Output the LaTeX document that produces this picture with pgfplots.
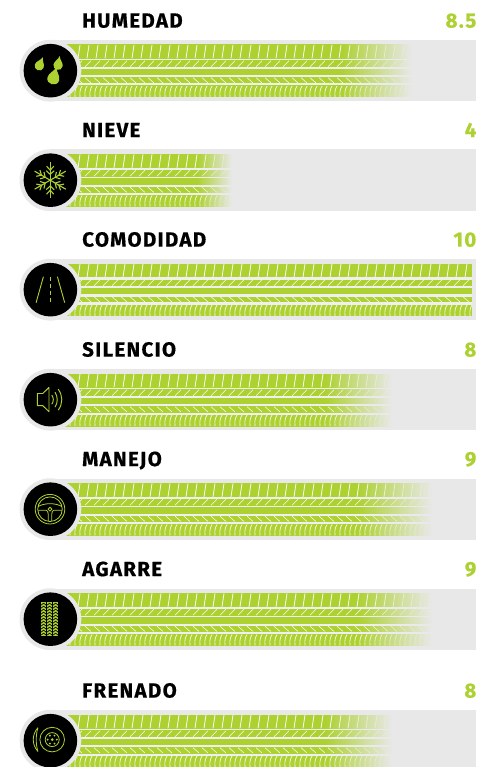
\documentclass[border=0pt]{standalone}
\usepackage{pgfplots}
\pgfplotsset{compat=1.18}
\usepackage{fontspec}
\setmainfont{Fira Sans}
\newfontfamily\lab[LetterSpace=6.5,BoldFeatures={FakeBold=0.6}]{Fira Sans}
\definecolor{lime}{HTML}{ADD131}
\definecolor{trk}{HTML}{E8E8E8}
\definecolor{gapc}{HTML}{EFEFEF}
\pgfdeclarehorizontalshading{ribfade}{100bp}{color(0bp)=(lime); color(65bp)=(lime); color(75bp)=(trk); color(100bp)=(trk)}
\pgfdeclarehorizontalshading{gapfade}{100bp}{color(0bp)=(gapc); color(65bp)=(gapc); color(75bp)=(trk); color(100bp)=(trk)}
\tikzset{ribA/.style={shading=ribfade,shading angle=0},gapA/.style={shading=gapfade,shading angle=0},
         ribB/.style={fill=lime},gapB/.style={fill=gapc}}
% #1 track top (px), #2 rib top offset, #3 rib bottom offset, #4 value, #5 style
\newcommand\rib[5]{%
  \pgfmathsetmacro\ya{#1+#2}\pgfmathsetmacro\yb{#1+#3}%
  \addplot[draw=none,#5,forget plot] coordinates {(-0.35,\ya)(#4,\ya)(#4,\yb)(-0.35,\yb)} --cycle;
}
% #1 top, #2 value, #3 style suffix
\newcommand\bars[3]{%
  \pgfmathsetmacro\ya{#1}\pgfmathsetmacro\yb{#1+61.4}%
  \addplot[draw=none,fill=trk,forget plot] coordinates {(-0.55,\ya)(10.1,\ya)(10.1,\yb)(-0.55,\yb)} --cycle;
  \rib{#1}{18.3}{20.7}{#2}{gap#3}
  \rib{#1}{26.7}{29.3}{#2}{gap#3}
  \rib{#1}{34.7}{37.7}{#2}{gap#3}
  \rib{#1}{43}{46}{#2}{gap#3}
  \rib{#1}{5}{18.3}{#2}{rib#3}
  \rib{#1}{20.7}{26.7}{#2}{rib#3}
  \rib{#1}{29.3}{34.7}{#2}{rib#3}
  \rib{#1}{37.7}{43}{#2}{rib#3}
  \rib{#1}{46}{57}{#2}{rib#3}
}
% white tread grooves, in pixel coordinates: #1 top, #2 value, #3 fade start value
\newcommand\tread[3]{%
  \begin{scope}
  \pgfmathsetmacro\xe{72+40*#2}\pgfmathsetmacro\xf{72+40*#3}
  \clip (58,#1) rectangle (\xe,#1+61.4);
  \foreach \x in {78,87,...,480}{
    \pgfmathsetmacro\op{\x<\xf?0.95:max(0.1,0.95-0.85*(\x-\xf)/(\xe-\xf))}
    \draw[white,opacity=\op,line width=.8pt] (\x,#1+18.3) .. controls (\x+.4,#1+12) .. (\x+2,#1+5);
    \draw[white,opacity=\op,line width=.55pt] (\x-2,#1+26.7) -- (\x+4,#1+20.7);
    \draw[white,opacity=\op,line width=.55pt] (\x-2,#1+37.7) -- (\x+4,#1+43);
  }
  \foreach \x in {70,75,...,480}{
    \pgfmathsetmacro\op{\x<\xf?0.95:max(0.1,0.95-0.85*(\x-\xf)/(\xe-\xf))}
    \draw[white,opacity=\op,line width=.65pt] (\x,#1+57) .. controls (\x-.6,#1+51) and (\x+.6,#1+48) .. (\x+2.2,#1+46);
  }
  \end{scope}
}
\newcommand\txt[3]{%
  \node[anchor=base west,inner sep=0,font=\lab\fontsize{20.5}{20.5}\selectfont\bfseries,text=black] at (82,#1-12.4) {#2};
  \node[anchor=base east,inner sep=0,font=\lab\fontsize{20.5}{20.5}\selectfont\bfseries,text=lime] at (476.5,#1-12.4) {#3};
}
\newcommand\drop[4]{% x y scale angle
  \fill[lime,shift={(#1,#2)},rotate=#4,scale=#3] (0,-1.3) .. controls (.15,-.6) and (.8,-.3) .. (.8,.35) .. controls (.8,.85) and (.4,1.1) .. (0,1.1) .. controls (-.4,1.1) and (-.8,.85) .. (-.8,.35) .. controls (-.8,-.3) and (-.15,-.6) .. (0,-1.3) -- cycle;
}
\begin{document}
\begin{tikzpicture}
\useasboundingbox (0,0) rectangle (490pt,767pt);
\clip (0,0) rectangle (490pt,767pt);
\begin{axis}[at={(0,0)},anchor=south west,scale only axis,width=490pt,height=767pt,
  hide axis,xmin=-1.8,xmax=10.45,ymin=0,ymax=767,y dir=reverse]
\bars{40}{8.5}{A}
\bars{149.5}{4}{A}
\bars{259}{10}{B}
\bars{369}{8}{A}
\bars{478.5}{9}{A}
\bars{588.5}{9}{A}
\bars{710}{8}{A}
\end{axis}
\begin{scope}[x=1pt,y=-1pt,shift={(0,767pt)}]
\tread{40}{8.5}{6.7}
\tread{149.5}{4}{3.1}
\tread{259}{10}{11}
\tread{369}{8}{6.4}
\tread{478.5}{9}{7.2}
\tread{588.5}{9}{7.2}
\tread{710}{8}{6.4}
\txt{40}{HUMEDAD}{8.5}
\txt{149.5}{NIEVE}{4}
\txt{259}{COMODIDAD}{10}
\txt{369}{SILENCIO}{8}
\txt{478.5}{MANEJO}{9}
\txt{588.5}{AGARRE}{9}
\txt{710}{FRENADO}{8}
\foreach \t in {40,149.5,259,369,478.5,588.5,710}{
  \fill[trk] (50.4,\t+30.7) circle (30.9);
  \fill[black] (50.4,\t+30.7) circle (26.8);
}
% drops
\begin{scope}[shift={(50.4,70.7)}]
\drop{-10.4}{-6.5}{5.8}{-22}
\drop{8}{-7.2}{5.8}{-10}
\drop{3.6}{5.6}{7.5}{-15}
\end{scope}
% snowflake
\begin{scope}[shift={(50.2,180.2)},lime,line width=1.1pt]
\foreach \a in {30,90,...,330}{
  \begin{scope}[rotate=\a]
  \draw (0,0) -- (18,0);
  \draw (14,-3.6) -- (10,0) -- (14,3.6);
  \draw (9.5,-4) -- (5.8,0) -- (9.5,4);
  \end{scope}
}
\end{scope}
% road
\begin{scope}[shift={(50.4,289.7)},lime,line width=.9pt]
\draw (-7,-13) -- (-14.3,13);
\draw (7,-13) -- (14.3,13);
\draw[dash pattern=on 4pt off 3pt] (0,-13) -- (0,13);
\end{scope}
% speaker
\begin{scope}[shift={(50.4,399.7)},lime,line width=.95pt,line join=round]
\draw (-13,-6.2) -- (-7.6,-6.2) -- (-1.4,-12.3) -- (-1.4,12) -- (-7.6,6) -- (-13,6) -- cycle;
\draw (1.4,-4.5) .. controls (3.4,-2) and (3.4,2) .. (1.4,4.5);
\draw (4.6,-7.5) .. controls (7.6,-3) and (7.6,3) .. (4.6,7.5);
\draw (7.8,-10.5) .. controls (12.6,-4) and (12.6,4) .. (7.8,10.5);
\end{scope}
% steering wheel
\begin{scope}[shift={(50,509.2)},lime,line width=.8pt]
\draw (0,0) circle (14.8);
\draw (0,0) circle (12.3);
\draw (-12,-2.5) .. controls (-6,-6.5) and (6,-6.5) .. (12,-2.5);
\draw (-12.2,1) -- (-4,1) .. controls (-2.4,1) and (-1.8,3) .. (-1.8,5) -- (-1.8,12);
\draw (12.2,1) -- (4,1) .. controls (2.4,1) and (1.8,3) .. (1.8,5) -- (1.8,12);
\draw (0,0) circle (1.9);
\end{scope}
% tyre
\begin{scope}[shift={(50,619.2)}]
\foreach \c in {-9,-3,3}{
  \fill[lime] (\c,-17) rectangle (\c+5.2,17);
  \foreach \y in {-16,-13,...,15}{
    \draw[black,line width=.65pt] (\c,\y+2) -- (\c+2.6,\y) -- (\c+5.2,\y+2);
  }
}
\end{scope}
% brake disc
\begin{scope}[shift={(52.2,739.6)},lime,line width=.8pt]
\draw (0,0) circle (12.3);
\draw (0,0) circle (7);
\draw (-14.3,-11.8) .. controls (-20.5,-5) and (-20.5,5) .. (-14.3,11.8);
\draw (-14.3,-11.8) .. controls (-16.5,-5) and (-16.5,5) .. (-14.3,11.8);
\foreach \a in {0,60,...,300}{ \fill (\a:4.6) circle (1.05); }
\fill (0,0) circle (1.5);
\end{scope}
\end{scope}
\end{tikzpicture}
\end{document}
